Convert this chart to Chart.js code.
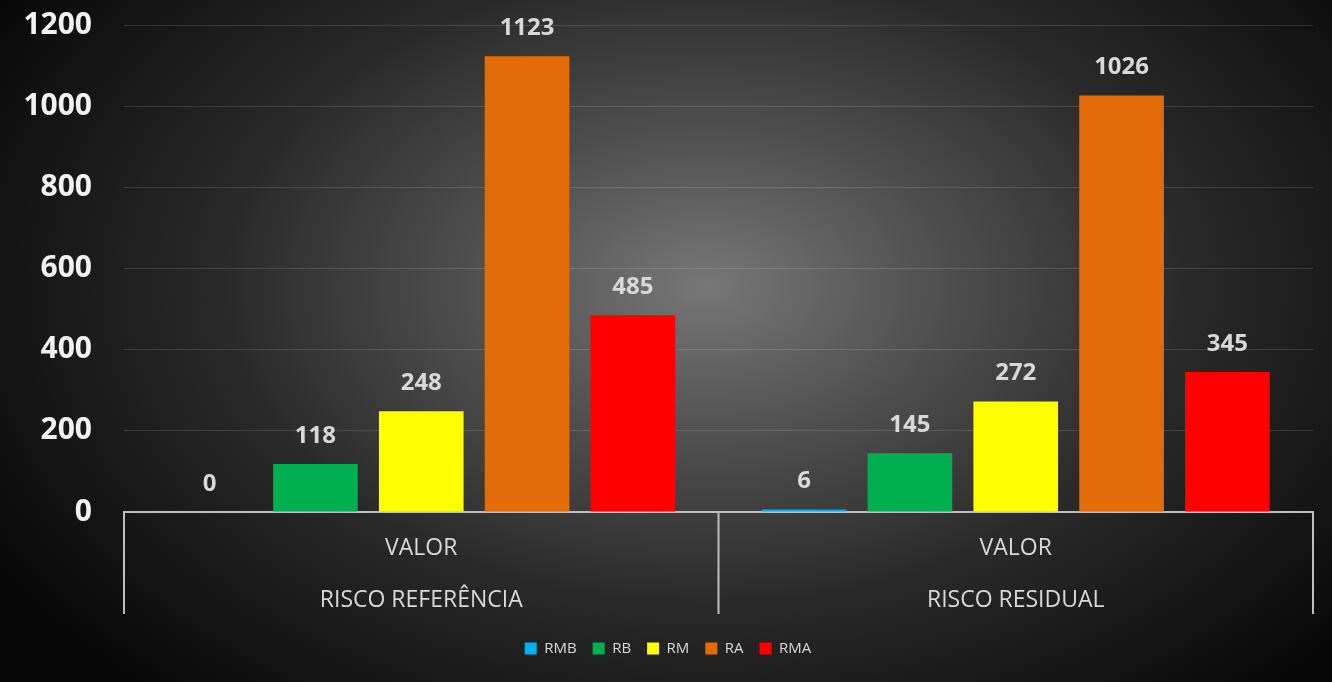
<!DOCTYPE html>
<html>
<head>
<meta charset="utf-8">
<script src="https://cdn.jsdelivr.net/npm/chart.js@4.4.1/dist/chart.umd.min.js"></script>
<style>
  html, body { margin: 0; padding: 0; }
  body {
    width: 1332px; height: 682px; overflow: hidden;
    background: radial-gradient(ellipse 62% 80% at 53% 42%, #777777 0%, #505050 28%, #2a2a2a 58%, #141414 85%, #080808 100%);
  }
  #wrap { width: 1332px; height: 682px; }
</style>
</head>
<body>
<div id="wrap"><canvas id="grafico"></canvas></div>
<script>
// categorias e series
const categorias = [['VALOR', 'RISCO REFERÊNCIA'], ['VALOR', 'RISCO RESIDUAL']];
const series = ['RMB', 'RB', 'RM', 'RA', 'RMA'];
const cores = ['#00b0f0', '#00b050', '#ffff00', '#e36c09', '#ff0000'];
const valoresRMB = [0, 6];
const valoresRB = [118, 145];
const valoresRM = [248, 272];
const valoresRA = [1123, 1026];
const valoresRMA = [485, 345];
const ticksY = [0, 200, 400, 600, 800, 1000, 1200];

const valores = [valoresRMB, valoresRB, valoresRM, valoresRA, valoresRMA];
const fonte = "'Open Sans', 'DejaVu Sans', sans-serif";

// rotulos de valor acima das barras
const rotulos = {
    id: 'rotulos',
    afterDatasetsDraw(chart) {
        const ctx = chart.ctx;
        ctx.save();
        ctx.font = 'bold 24px ' + fonte;
        ctx.fillStyle = '#d9d9d9';
        ctx.textAlign = 'center';
        ctx.textBaseline = 'middle';
        chart.data.datasets.forEach((ds, i) => {
            chart.getDatasetMeta(i).data.forEach((bar, j) => {
                ctx.fillText(ds.data[j], bar.x, bar.y - 28);
            });
        });
        ctx.restore();
    }
};

// linhas divisorias das categorias abaixo do eixo
const divisorias = {
    id: 'divisorias',
    afterDraw(chart) {
        const x = chart.scales.x;
        const ctx = chart.ctx;
        const passo = x.getPixelForValue(1) - x.getPixelForValue(0);
        const topo = chart.chartArea.bottom;
        ctx.save();
        ctx.strokeStyle = '#bfbfbf';
        ctx.lineWidth = 2;
        for (let i = 0; i <= categorias.length; i++) {
            const px = x.getPixelForValue(0) - passo / 2 + i * passo;
            ctx.beginPath();
            ctx.moveTo(px, topo);
            ctx.lineTo(px, topo + 102);
            ctx.stroke();
        }
        ctx.restore();
    }
};

new Chart(document.getElementById('grafico'), {
    type: 'bar',
    data: {
        labels: categorias,
        datasets: series.map((nome, i) => ({
            label: nome,
            data: valores[i],
            backgroundColor: cores[i],
            borderWidth: 0,
            categoryPercentage: 0.89,
            barPercentage: 0.8,
        })),
    },
    options: {
        responsive: true,
        maintainAspectRatio: false,
        animation: false,
        layout: { padding: { left: 23, right: 19, top: 25, bottom: 16 } },
        plugins: {
            tooltip: { enabled: false },
            legend: {
                position: 'bottom',
                labels: {
                    color: '#d9d9d9',
                    font: { family: fonte, size: 15 },
                    boxWidth: 12,
                    boxHeight: 12,
                    padding: 16,
                },
            },
        },
        scales: {
            x: {
                afterFit(axis) { axis.height = 113; },
                grid: { display: true, drawOnChartArea: false, drawTicks: false, color: 'transparent' },
                border: { display: true, color: '#bfbfbf', width: 2 },
                ticks: {
                    color: '#d9d9d9',
                    font: { family: fonte, size: 23, lineHeight: 2.26 },
                    padding: 10,
                    maxRotation: 0,
                },
            },
            y: {
                min: 0,
                max: 1200,
                afterBuildTicks(axis) { axis.ticks = ticksY.map(v => ({ value: v })); },
                afterFit(axis) {
                    axis.width = 101;
                    axis.paddingTop = 0;
                    axis.paddingBottom = 0;
                },
                grid: { color: 'rgba(255,255,255,0.13)', drawTicks: false },
                border: { display: false },
                ticks: {
                    color: '#f2f2f2',
                    font: { family: fonte, size: 30, weight: 'bold' },
                    padding: 32,
                    callback: v => String(v),
                },
            },
        },
    },
    plugins: [rotulos, divisorias],
});
</script>
</body>
</html>
